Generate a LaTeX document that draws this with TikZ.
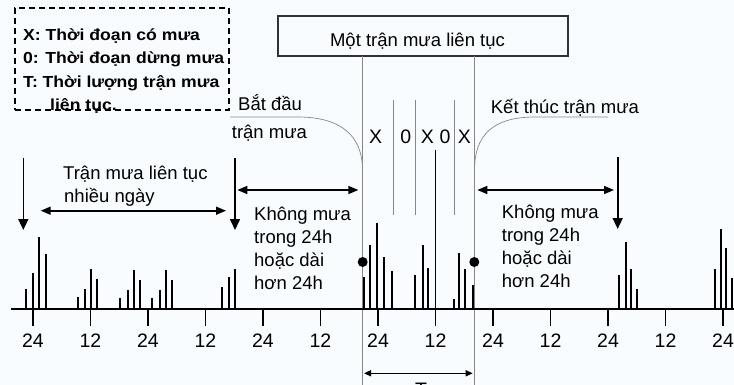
\documentclass[tikz,border=0pt]{standalone}
\usepackage{fontspec}
\setmainfont{Liberation Sans}
\newfontfamily\legendfont[FakeStretch=1.1]{Liberation Sans}
\usetikzlibrary{arrows.meta}
\definecolor{bgblue}{RGB}{248,252,255}
\definecolor{linegray}{RGB}{135,135,135}
\definecolor{boxgray}{RGB}{50,50,50}
\begin{document}
\begin{tikzpicture}[x=1pt, y=-1pt,
  lbl/.style={font=\fontsize{18.5}{23}\selectfont, inner sep=0pt, anchor=base west},
  num/.style={font=\fontsize{19.5}{23}\selectfont, inner sep=0pt, anchor=base},
  legend/.style={font=\legendfont\bfseries\fontsize{16}{20}\selectfont, inner sep=0pt, anchor=base west},
  bar/.style={line width=1.8pt},
  darrow/.style={{Triangle[length=10pt,width=8pt]}-{Triangle[length=10pt,width=8pt]}, line width=1.6pt},
  downarrow/.style={-{Triangle[length=11pt,width=10pt]}, line width=1.6pt},
  thinline/.style={linegray, line width=0.7pt},
  thickgray/.style={linegray, line width=1.6pt}]
  \useasboundingbox (0,0) rectangle (734,385);
  \fill[bgblue] (0,0) rectangle (734,385);
  \clip (0,0) rectangle (734,385);
  % Legend
  \node (legbox) [draw, line width=1.3pt, dash pattern=on 6pt off 4pt, minimum width=214pt, minimum height=102pt] at (122,59) {};
  \node (legX) [legend] at (23,40.7) {X: Thời đoạn có mưa};
  \node (leg0) [legend] at (23,64) {0: Thời đoạn dừng mưa};
  \node (legT) [legend] at (23,87.3) {T: Thời lượng trận mưa};
  \node (legT2) [legend] at (50,110.6) {liên tục.};
  % Header
  \node (title) [draw=boxgray, line width=1.6pt, minimum width=290pt, minimum height=40pt] at (423,36) {};
  \node (titletext) [num, font=\fontsize{18.5}{23}\selectfont] at (417.5,46.7) {Một trận mưa liên tục};
  % Storm borders
  \draw[thickgray] (362.5,56) -- (362.5,168);
  \draw[thickgray] (474.5,56) -- (474.5,168);
  \draw[thinline] (362.5,168) -- (362.5,385);
  \draw[thinline] (474.5,168) -- (474.5,385);
  \draw[thinline] (230,117) -- (298,117) .. controls (340,117) and (362.5,135) .. (362.5,170);
  \draw[thinline] (608,117) -- (535,117) .. controls (493,117) and (474.5,135) .. (474.5,170);
  \foreach \x in {393.3,415.7,454}
    \draw[thinline] (\x,100) -- (\x,215);
  % X and 0 marks
  \foreach \x/\t [count=\k] in {375.5/X,405.7/0,427.3/X,445/0,464.3/X}
    \node (mark\k) [num] at (\x,144) {\t};
  % Texts
  \node (multi1) [lbl] at (63,179.5) {Trận mưa liên tục};
  \node (multi2) [lbl] at (64,202) {nhiều ngày};
  \node (start1) [lbl] at (238,111) {Bắt đầu};
  \node (start2) [lbl] at (231.7,138.3) {trận mưa};
  \node (stop) [lbl] at (490.7,114) {Kết thúc trận mưa};
  \node (norainL) [lbl, align=left] at (254,289.7) {Không mưa\\trong 24h\\hoặc dài\\hơn 24h};
  \node (norainR) [lbl, align=left] at (501.7,287.5) {Không mưa\\trong 24h\\hoặc dài\\hơn 24h};
  \node (T) [num] at (421,396) {T};
  % Arrows
  \coordinate (a1) at (23.3,158);  \coordinate (a2) at (23.3,230);
  \coordinate (b1) at (235,158);   \coordinate (b2) at (235,230);
  \coordinate (c1) at (617.7,157); \coordinate (c2) at (617.7,229);
  \coordinate (d1) at (40.7,210.7); \coordinate (d2) at (226,210.7);
  \coordinate (e1) at (237.3,190); \coordinate (e2) at (358.3,190);
  \coordinate (f1) at (477.3,190); \coordinate (f2) at (614,190);
  \coordinate (g1) at (364,373.3); \coordinate (g2) at (472.7,373.3);
  \draw[downarrow] (a1) -- (a2);
  \draw[downarrow] (b1) -- (b2);
  \draw[downarrow] (c1) -- (c2);
  \draw[darrow] (d1) -- (d2);
  \draw[darrow] (e1) -- (e2);
  \draw[darrow] (f1) -- (f2);
  \draw[{Triangle[length=7pt,width=6pt]}-{Triangle[length=7pt,width=6pt]}, line width=1.3pt] (g1) -- (g2);
  % Time axis
  \draw[bar] (11,309) -- (734,309);
  \foreach \i in {0,...,12}{
    \draw[bar] (33+57.5*\i,309) -- ++(0,17);
    \node (n\i) [num] at (33+57.5*\i,347.3) {\ifodd\i\relax 12\else 24\fi};
  }
  % Rain bars
  \foreach \x/\top in {25.7/289,33.3/273,39.3/237,45.7/254,
      77.7/297,85/289,91/269,97.3/279,
      120.3/298,127.7/290,134/270,140/280,
      152.3/298,160/290,166.3/270,172.3/280,
      221.7/287,229/277,235/269,
      364.3/277,370.3/245,377.3/223,384.3/257,392.3/271,
      415.3/275,422.7/245,428.3/268,435.5/150,
      453.7/299,459/253,465/269,472.7/285,
      619.3/275,625.7/242,631/269,636.7/289,
      715/269,720.7/229,726/248,731.7/278}
    \draw[bar] (\x,309) -- (\x,\top);
  \fill (362.7,262) circle (5pt);
  \fill (474.3,262) circle (5pt);
\end{tikzpicture}
\end{document}
